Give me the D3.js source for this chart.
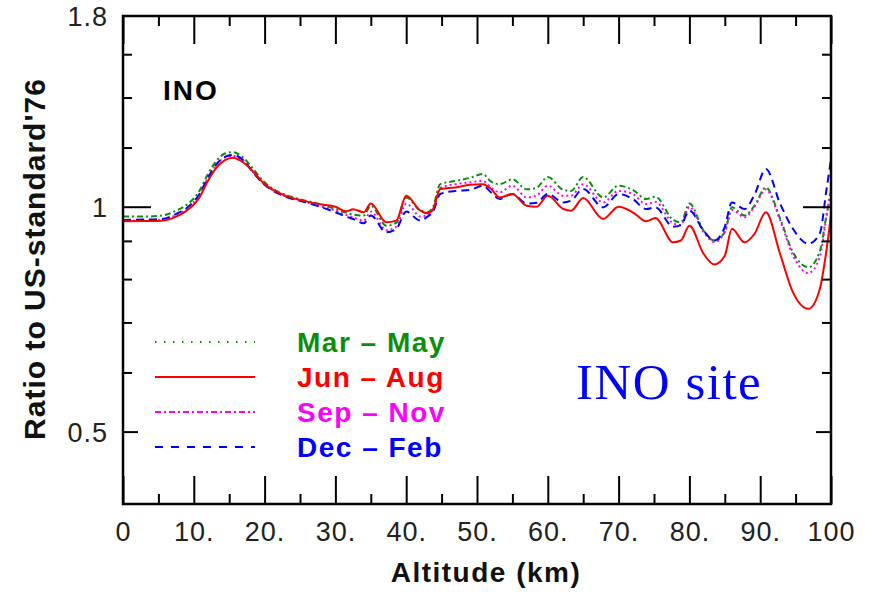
<!DOCTYPE html>
<html><head><meta charset="utf-8">
<script src="https://cdn.jsdelivr.net/npm/d3@7"></script>
<style>
html,body{margin:0;padding:0;background:#fff;}
svg{display:block;}
</style></head>
<body>
<svg id="chart" width="876" height="592"></svg>
<script>
const altitudes = [0,3,5.5,7.5,9,10.8,12,13.2,14.4,15.5,17,18.4,19.8,21.2,23,25.4,27.8,30,31.5,32.5,34,35,37.2,38.6,40,42,43,43.8,44.8,47,49,50.8,52,53.2,55,57,58.4,60,62.2,63.3,65,67.8,70,72,73.9,75.2,77.7,78.8,80,82,83.5,85,86,87.8,89.2,90.8,92.8,94.6,96.8,98.4,99.4,100];
const marMay = [0.970,0.970,0.973,0.988,1.006,1.050,1.106,1.152,1.178,1.183,1.163,1.123,1.083,1.056,1.037,1.021,1.008,0.993,0.982,0.976,0.973,1.003,0.943,0.952,1.029,0.988,0.983,1.000,1.072,1.083,1.093,1.106,1.080,1.072,1.088,1.055,1.060,1.096,1.053,1.050,1.096,1.029,1.067,1.053,1.024,1.031,0.960,0.953,1.010,0.929,0.901,0.925,0.998,0.973,1.003,1.061,0.965,0.870,0.830,0.870,0.980,1.050];
const junAug = [0.956,0.957,0.958,0.970,0.988,1.029,1.083,1.128,1.154,1.163,1.146,1.114,1.077,1.053,1.034,1.019,1.008,1.000,0.986,0.992,0.983,1.010,0.953,0.958,1.034,0.988,0.980,0.993,1.056,1.061,1.070,1.072,1.056,1.029,1.040,1.003,1.000,1.034,0.993,0.988,1.027,0.963,1.000,0.983,0.956,0.966,0.896,0.901,0.943,0.865,0.837,0.860,0.934,0.896,0.920,0.983,0.865,0.769,0.730,0.775,0.880,0.975];
const sepNov = [0.957,0.958,0.960,0.975,0.994,1.038,1.092,1.138,1.164,1.170,1.152,1.112,1.075,1.051,1.032,1.017,1.002,0.988,0.975,0.968,0.958,0.985,0.930,0.940,1.010,0.970,0.975,0.990,1.060,1.072,1.078,1.083,1.060,1.045,1.067,1.029,1.035,1.067,1.034,1.035,1.072,1.013,1.050,1.040,1.008,1.015,0.950,0.945,1.000,0.925,0.897,0.925,0.990,0.968,1.000,1.055,0.960,0.862,0.815,0.855,0.975,1.050];
const decFeb = [0.960,0.961,0.963,0.978,0.996,1.040,1.094,1.140,1.166,1.173,1.154,1.111,1.074,1.050,1.031,1.016,1.000,0.983,0.970,0.963,0.950,0.973,0.924,0.934,0.985,0.958,0.970,0.985,1.040,1.050,1.053,1.067,1.045,1.024,1.040,1.010,1.012,1.040,1.013,1.019,1.056,0.998,1.040,1.024,0.993,0.998,0.940,0.945,0.988,0.929,0.901,0.940,1.013,0.993,1.038,1.123,1.010,0.935,0.892,0.920,1.060,1.157];

const seasonNames = ["Mar – May","Jun – Aug","Sep – Nov","Dec – Feb"];
const xTicks = [0,10,20,30,40,50,60,70,80,90,100];
const xTickLabels = ["0","10.","20.","30.","40.","50.","60.","70.","80.","90.","100"];
const yTicks = [0.5,1,1.8];
const yTickLabels = ["0.5","1","1.8"];
const yMinorTicks = [0.6,0.7,0.8,0.9,1.2,1.4,1.6];

(function(){
const W = 876, H = 592;
const m = {left:123, right:45, top:16, bottom:88};
const pw = W - m.left - m.right, ph = H - m.top - m.bottom;

const svg = d3.select("#chart");
const x = d3.scaleLinear().domain([0,100]).range([m.left, m.left+pw]);
const y = d3.scaleLog().domain([0.4,1.8]).range([m.top+ph, m.top]);

const colors = ["#0a8f0a","#ff0000","#ff00ff","#0000ff"];
const plotDash = ["6,3,2,3", null, "2,3", "8,5"];
const legendDash = ["1.5,7.5", null, "6,3,2,3", "8,8"];
const seriesVals = [marMay, junAug, sepNov, decFeb];

svg.append("defs").append("clipPath").attr("id","clip")
  .append("rect").attr("x",m.left).attr("y",m.top).attr("width",pw).attr("height",ph);

const line = d3.line().x(d=>x(d[0])).y(d=>y(d[1])).curve(d3.curveMonotoneX);
const g = svg.append("g").attr("clip-path","url(#clip)");
[0,2,3,1].forEach(i=>{
  const pts = altitudes.map((a,j)=>[a, seriesVals[i][j]]);
  g.append("path").datum(pts).attr("d",line)
    .attr("fill","none").attr("stroke",colors[i]).attr("stroke-width",2)
    .attr("stroke-dasharray",plotDash[i]);
});

const axisFont = "'Liberation Sans', Arial, Helvetica, sans-serif";
const xMajor = d3.range(0,101,10), xMinor = d3.range(5,100,10);
svg.append("g").attr("transform",`translate(0,${m.top+ph})`)
  .call(d3.axisBottom(x).tickValues(xMajor).tickSize(-28).tickFormat(""));
svg.append("g").attr("transform",`translate(0,${m.top+ph})`)
  .call(d3.axisBottom(x).tickValues(xMinor).tickSize(-10).tickFormat(""));
svg.append("g").attr("transform",`translate(0,${m.top})`)
  .call(d3.axisTop(x).tickValues(xMajor).tickSize(-28).tickFormat(""));
svg.append("g").attr("transform",`translate(0,${m.top})`)
  .call(d3.axisTop(x).tickValues(xMinor).tickSize(-10).tickFormat(""));

const yLen = v => v===1 ? 28 : (v===0.5 ? 15 : 9);
const allY = yTicks.filter(v=>v<1.8).concat(yMinorTicks);
allY.forEach(v=>{
  svg.append("g").attr("transform",`translate(${m.left},0)`)
    .call(d3.axisLeft(y).tickValues([v]).tickSize(-yLen(v)).tickFormat(""));
  svg.append("g").attr("transform",`translate(${m.left+pw},0)`)
    .call(d3.axisRight(y).tickValues([v]).tickSize(-yLen(v)).tickFormat(""));
});
svg.selectAll(".domain").remove();
svg.selectAll(".tick line").attr("stroke","#000").attr("stroke-width",2);

svg.append("rect").attr("x",m.left).attr("y",m.top).attr("width",pw).attr("height",ph)
  .attr("fill","none").attr("stroke","#000").attr("stroke-width",2.5);

svg.append("g").selectAll("text").data(xTicks).join("text")
  .attr("x",d=>x(d)+0.5).attr("y",m.top+ph+37)
  .attr("text-anchor","middle").attr("font-family",axisFont).attr("font-size",27)
  .attr("letter-spacing",1).attr("fill","#222")
  .text((d,i)=>xTickLabels[i]);
svg.append("g").selectAll("text").data(yTicks).join("text")
  .attr("x",m.left-15).attr("y",d=>y(d)+10)
  .attr("text-anchor","end").attr("font-family",axisFont).attr("font-size",27)
  .attr("letter-spacing",1).attr("fill","#222")
  .text((d,i)=>yTickLabels[i]);

svg.append("text").attr("x",486).attr("y",582).attr("text-anchor","middle")
  .attr("font-family",axisFont).attr("font-weight","bold").attr("font-size",28)
  .attr("letter-spacing",1.5).attr("fill","#111").text("Altitude (km)");
svg.append("text").attr("transform","translate(45,259) rotate(-90)").attr("text-anchor","middle")
  .attr("font-family",axisFont).attr("font-weight","bold").attr("font-size",30)
  .attr("letter-spacing",1).attr("fill","#111").text("Ratio to US-standard'76");

svg.append("text").attr("x",163).attr("y",100)
  .attr("font-family",axisFont).attr("font-weight","bold").attr("font-size",28)
  .attr("letter-spacing",2).attr("fill","#000").text("INO");

const legY = [342,377,412,447];
seasonNames.forEach((name,i)=>{
  svg.append("line").attr("x1",155).attr("x2",255).attr("y1",legY[i]).attr("y2",legY[i])
    .attr("stroke",colors[i]).attr("stroke-width",2).attr("stroke-dasharray",legendDash[i]);
  svg.append("text").attr("x",297).attr("y",legY[i]+10)
    .attr("font-family",axisFont).attr("font-weight","bold").attr("font-size",28)
    .attr("letter-spacing",1.5).attr("fill",colors[i]).text(name);
});

svg.append("text").attr("x",576).attr("y",399)
  .attr("font-family","'Liberation Serif', 'Times New Roman', serif").attr("font-size",51)
  .attr("letter-spacing",1.5).attr("fill","#0000ff").text("INO site");
})();
</script>
</body></html>
